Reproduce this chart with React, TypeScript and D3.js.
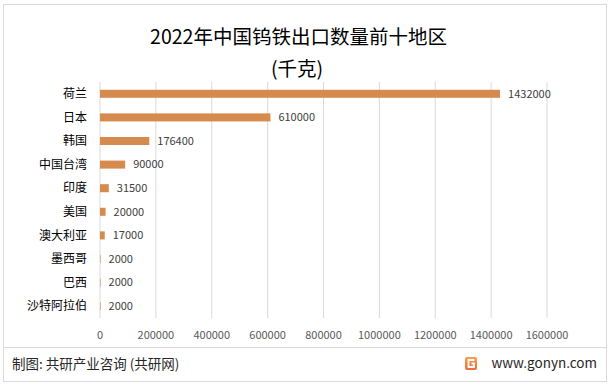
import React, { useEffect, useRef } from 'react';
import * as d3 from 'd3';

const categories = ['荷兰', '日本', '韩国', '中国台湾', '印度', '美国', '澳大利亚', '墨西哥', '巴西', '沙特阿拉伯'];
const values = [1432000, 610000, 176400, 90000, 31500, 20000, 17000, 2000, 2000, 2000];
const xTicks = [0, 200000, 400000, 600000, 800000, 1000000, 1200000, 1400000, 1600000];

const W = 614;
const H = 385;
const FONT = '"Noto Sans CJK SC", "Microsoft YaHei", sans-serif';

const App: React.FC = () => {
 const svgRef = useRef<SVGSVGElement>(null);

 useEffect(() => {
 if (!svgRef.current) return;
 const svg = d3.select(svgRef.current);
 svg.selectAll('*').remove();

 const x = d3.scaleLinear().domain([0, 1600000]).range([100, 547]);
 const y = d3.scaleBand<string>().domain(categories).range([82, 318]).paddingInner(0.66).paddingOuter(0.33);

 // background + frame
 svg.append('rect').attr('x', 0).attr('y', 0).attr('width', W).attr('height', H).attr('fill', '#fff');
 svg.append('rect').attr('x', 3.5).attr('y', 4.5).attr('width', 603).attr('height', 377)
 .attr('fill', 'none').attr('stroke', '#d9d9d9');

 // title
 svg.append('text').attr('x', 298.5).attr('y', 44).attr('text-anchor', 'middle')
 .attr('font-size', 19.5).attr('fill', '#000').attr('font-family', FONT)
 .text('2022年中国钨铁出口数量前十地区');
 svg.append('text').attr('x', 297).attr('y', 76).attr('text-anchor', 'middle')
 .attr('font-size', 19.5).attr('fill', '#000').attr('font-family', FONT)
 .text('(千克)');

 // gridlines
 svg.append('g').selectAll('line').data(xTicks).enter().append('line')
 .attr('x1', d => x(d)).attr('x2', d => x(d))
 .attr('y1', 82).attr('y2', 318)
 .attr('stroke', '#d9d9d9').attr('stroke-width', 1);

 // x tick labels
 svg.append('g').selectAll('text').data(xTicks).enter().append('text')
 .attr('x', d => x(d)).attr('y', 339).attr('text-anchor', 'middle')
 .attr('font-size', 11).attr('fill', '#595959').attr('font-family', FONT)
 .text(d => String(d));

 // bars
 svg.append('g').selectAll('rect').data(values).enter().append('rect')
 .attr('x', x(0))
 .attr('y', (_, i) => y(categories[i])!)
 .attr('width', d => x(d) - x(0))
 .attr('height', y.bandwidth())
 .attr('fill', '#d68b4e');

 // value labels
 svg.append('g').selectAll('text').data(values).enter().append('text')
 .attr('x', d => x(d) + 8)
 .attr('y', (_, i) => y(categories[i])! + y.bandwidth() / 2)
 .attr('dy', '0.35em')
 .attr('font-size', 11).attr('fill', '#404040').attr('font-family', FONT)
 .text(d => String(d));

 // category labels
 svg.append('g').selectAll('text').data(categories).enter().append('text')
 .attr('x', 87)
 .attr('y', d => y(d)! + y.bandwidth() / 2)
 .attr('dy', '0.35em').attr('text-anchor', 'end')
 .attr('font-size', 12).attr('fill', '#000').attr('font-family', FONT)
 .text(d => d);

 // footer
 svg.append('line').attr('x1', 4).attr('x2', 606).attr('y1', 347.5).attr('y2', 347.5)
 .attr('stroke', '#d9d9d9');
 svg.append('text').attr('x', 12).attr('y', 369)
 .attr('font-size', 13.5).attr('fill', '#262626').attr('font-family', FONT)
 .text('制图: 共研产业咨询 (共研网)');
 svg.append('text').attr('x', 597).attr('y', 368).attr('text-anchor', 'end')
 .attr('font-size', 13.5).attr('fill', '#262626').attr('font-family', FONT)
 .text('www.gonyn.com');

 // logo
 const grad = svg.append('defs').append('linearGradient').attr('id', 'lg')
 .attr('x1', 0).attr('y1', 0).attr('x2', 0).attr('y2', 1);
 grad.append('stop').attr('offset', '0%').attr('stop-color', '#f7a04a');
 grad.append('stop').attr('offset', '100%').attr('stop-color', '#ee6a3a');
 const logo = svg.append('g').attr('transform', 'translate(465,357)');
 logo.append('rect').attr('x', 0).attr('y', 0).attr('width', 12).attr('height', 13).attr('rx', 2).attr('fill', 'url(#lg)');
 logo.append('path').attr('d', 'M9.5,3 H3.5 V10 H9 V6.5 H6.5').attr('fill', 'none').attr('stroke', '#fff').attr('stroke-width', 1.8);
 }, []);

 return (
 <svg ref={svgRef} width={W} height={H} viewBox={`0 0 ${W} ${H}`}
 style={{ position: 'absolute', left: 0, top: 0 }} />
 );
};

export default App;
